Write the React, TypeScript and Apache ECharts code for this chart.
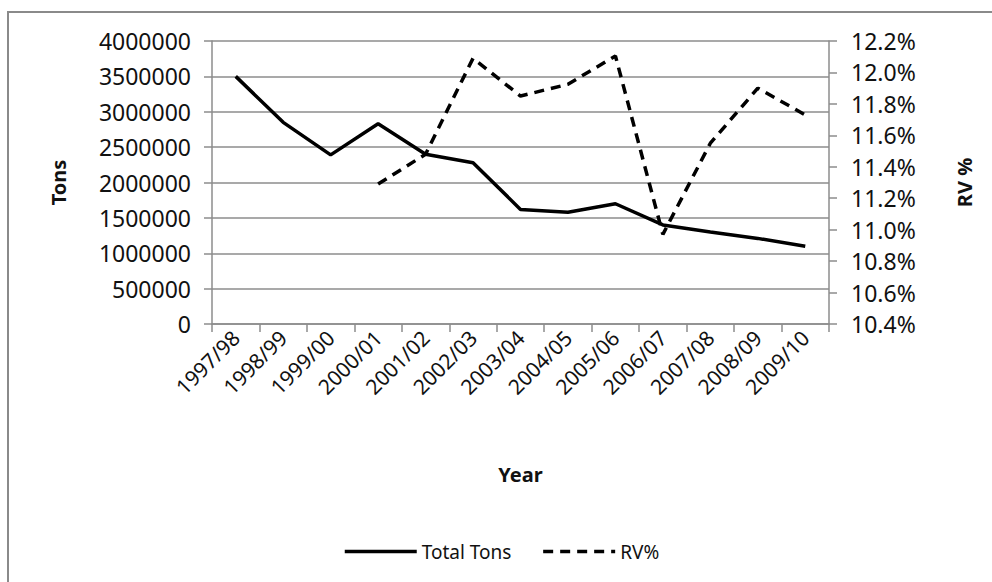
import React, { useEffect, useRef } from "react";
import * as echarts from "echarts";

const years = [
  "1997/98", "1998/99", "1999/00", "2000/01", "2001/02", "2002/03", "2003/04",
  "2004/05", "2005/06", "2006/07", "2007/08", "2008/09", "2009/10",
];
const totalTons = [
  3500000, 2850000, 2390000, 2830000, 2400000, 2280000, 1620000,
  1580000, 1700000, 1400000, 1300000, 1210000, 1100000,
];
const rvPercent: (number | null)[] = [
  null, null, null, 11.29, 11.48, 12.09, 11.85, 11.925, 12.105, 10.97, 11.55, 11.9, 11.73,
];
const leftTicks = { min: 0, max: 4000000, interval: 500000 };
const rightTicks = { min: 10.4, max: 12.2, interval: 0.2 };

const FONT = "'Noto Sans', 'Open Sans', sans-serif";

export default function App() {
  const ref = useRef<HTMLDivElement>(null);
  useEffect(() => {
    if (!ref.current) return;
    const chart = echarts.init(ref.current, null, { renderer: "svg" });
    const axisGray = "#8c8c8c";
    chart.setOption({
      animation: false,
      backgroundColor: "#ffffff",
      textStyle: { fontFamily: FONT, color: "#111" },
      graphic: [
        {
          type: "rect",
          shape: { x: 8, y: 12, width: 1000, height: 600 },
          style: { fill: "none", stroke: "#8a8a8a", lineWidth: 2 },
          silent: true,
          z: -10,
        },
      ],
      grid: { left: 212, right: 163, top: 41, bottom: 258 },
      legend: {
        left: 338,
        top: 537,
        itemWidth: 72,
        itemHeight: 12,
        itemGap: 30,
        icon: undefined,
        itemStyle: { opacity: 0 },
        lineStyle: { width: 3.5 },
        textStyle: { fontSize: 19, color: "#111", fontFamily: FONT },
        data: [{ name: "Total Tons" }, { name: "RV%" }],
      },
      xAxis: {
        type: "category",
        data: years,
        boundaryGap: true,
        name: "Year",
        nameLocation: "middle",
        nameGap: 140,
        nameTextStyle: { fontSize: 20, fontWeight: "bold", color: "#111" },
        axisLine: { lineStyle: { color: axisGray, width: 1.5 } },
        axisTick: { show: true, length: 8, lineStyle: { color: axisGray, width: 1.5 } },
        axisLabel: { rotate: 45, fontSize: 21, margin: 10, color: "#111", interval: 0 },
      },
      yAxis: [
        {
          type: "value",
          min: leftTicks.min,
          max: leftTicks.max,
          interval: leftTicks.interval,
          name: "Tons",
          nameLocation: "middle",
          nameGap: 144,
          nameRotate: 90,
          nameTextStyle: { fontSize: 20, fontWeight: "bold", color: "#111" },
          axisLine: { show: true, lineStyle: { color: axisGray, width: 1.5 } },
          axisTick: { show: true, length: 8, lineStyle: { color: axisGray, width: 1.5 } },
          axisLabel: {
            fontSize: 23,
            margin: 21,
            color: "#111",
            formatter: (v: number) => String(v),
          },
          splitLine: { show: true, lineStyle: { color: axisGray, width: 1.5 } },
        },
        {
          type: "value",
          position: "right",
          min: rightTicks.min,
          max: rightTicks.max,
          interval: rightTicks.interval,
          name: "RV %",
          nameLocation: "middle",
          nameGap: 125,
          nameRotate: 90,
          nameTextStyle: { fontSize: 20, fontWeight: "bold", color: "#111" },
          axisLine: { show: true, lineStyle: { color: axisGray, width: 1.5 } },
          axisTick: { show: true, length: 8, lineStyle: { color: axisGray, width: 1.5 } },
          axisLabel: {
            fontSize: 23,
            margin: 22,
            color: "#111",
            formatter: (v: number) => v.toFixed(1) + "%",
          },
          splitLine: { show: false },
        },
      ],
      series: [
        {
          name: "Total Tons",
          type: "line",
          yAxisIndex: 0,
          data: totalTons,
          symbol: "none",
          lineStyle: { color: "#000", width: 3.5, type: "solid" },
          itemStyle: { color: "#000" },
          z: 3,
        },
        {
          name: "RV%",
          type: "line",
          yAxisIndex: 1,
          data: rvPercent,
          symbol: "none",
          connectNulls: false,
          lineStyle: { color: "#000", width: 3.5, type: [10, 7] },
          itemStyle: { color: "#000" },
          z: 4,
        },
      ],
    });
    return () => chart.dispose();
  }, []);
  return (
    <div
      ref={ref}
      style={{ position: "fixed", left: 0, top: 0, width: 992, height: 582 }}
    />
  );
}
